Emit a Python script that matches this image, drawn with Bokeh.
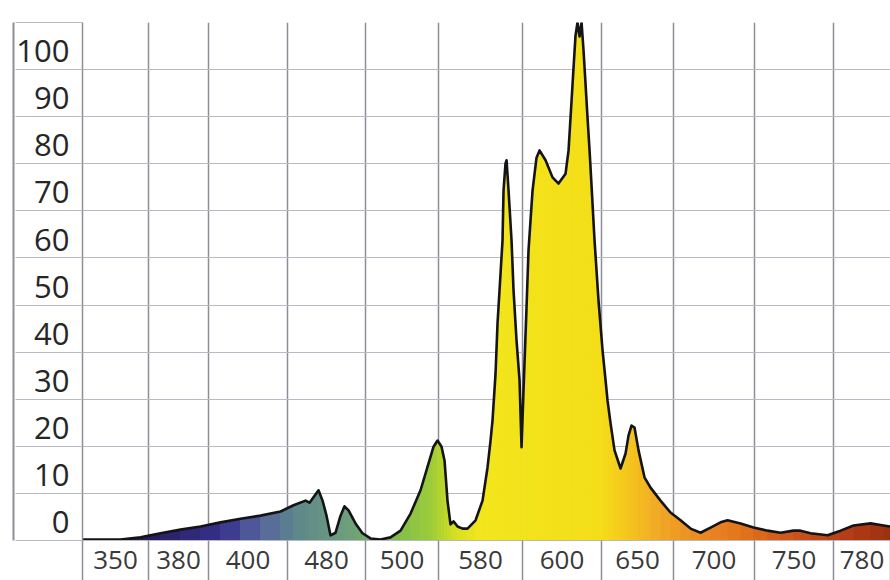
import numpy as np
from bokeh.plotting import figure
from bokeh.models import FixedTicker, LinearAxis, Range1d, Grid
from bokeh.embed import file_html
from bokeh.resources import INLINE

# ---- data -------------------------------------------------------------
# wavelength labels, one per column of the chart (nm)
x_labels = ["350", "380", "400", "480", "500", "580", "600", "650", "700", "750", "780"]
# column boundaries of the hand-drawn grid, in column units
x_bounds = [0, 0.899, 1.715, 2.791, 3.853, 4.847, 5.990, 7.066, 8.046, 9.149, 10.225, 11]
# y labels (relative intensity, %)
y_labels = ["0", "10", "20", "30", "40", "50", "60", "70", "80", "90", "100"]

# spectrum trace: position along the wavelength columns, relative intensity (%)
pos = [0.000, 0.245, 0.517, 0.790, 1.062, 1.334, 1.607, 1.879, 2.151, 2.423,
       2.696, 2.873, 3.036, 3.091, 3.213, 3.268, 3.322, 3.376, 3.445, 3.513,
       3.567, 3.622, 3.717, 3.812, 3.921, 4.057, 4.193, 4.330, 4.466, 4.602,
       4.711, 4.779, 4.833, 4.888, 4.929, 4.969, 5.010, 5.051, 5.106, 5.174,
       5.242, 5.351, 5.446, 5.514, 5.555, 5.582, 5.623, 5.650, 5.691, 5.718,
       5.732, 5.759, 5.773, 5.800, 5.841, 5.868, 5.909, 5.950, 5.977, 6.004,
       6.045, 6.072, 6.127, 6.181, 6.222, 6.304, 6.399, 6.481, 6.576, 6.617,
       6.658, 6.685, 6.712, 6.739, 6.767, 6.794, 6.821, 6.848, 6.875, 6.903,
       6.930, 6.971, 7.025, 7.080, 7.121, 7.148, 7.189, 7.243, 7.325, 7.393,
       7.434, 7.474, 7.515, 7.570, 7.651, 7.733, 7.869, 8.005, 8.142, 8.278,
       8.414, 8.550, 8.686, 8.782, 8.959, 9.135, 9.326, 9.503, 9.680, 9.775,
       9.912, 10.143, 10.320, 10.497, 10.728, 10.905, 11.000]
rel = [0.2, 0.2, 0.2, 0.6, 1.4, 2.1, 2.7, 3.5, 4.2, 4.8,
       5.6, 6.8, 7.7, 7.3, 9.7, 7.7, 4.8, 1.0, 1.5, 4.8,
       6.6, 5.8, 3.3, 1.4, 0.4, 0.2, 0.6, 1.9, 5.2, 9.7,
       14.9, 18.1, 19.3, 18.1, 15.4, 7.7, 3.1, 3.7, 2.7, 2.3,
       2.3, 3.9, 7.7, 14.1, 19.3, 23.2, 32.2, 41.9, 51.5, 57.9,
       67.6, 72.8, 73.4, 67.6, 57.9, 48.3, 38.6, 30.9, 18.0, 29.0,
       45.0, 56.0, 67.6, 73.9, 75.3, 73.4, 70.1, 68.9, 70.8, 75.3,
       84.9, 91.3, 97.5, 100.0, 97.3, 100.0, 94.6, 88.2, 81.7, 75.3,
       68.5, 57.9, 46.3, 36.7, 30.9, 27.0, 22.6, 17.4, 13.9, 16.8,
       20.3, 22.2, 21.8, 17.4, 12.2, 10.2, 7.7, 5.4, 3.9, 2.3,
       1.5, 2.5, 3.5, 3.9, 3.3, 2.5, 1.9, 1.5, 1.9, 1.9,
       1.4, 1.0, 1.9, 2.9, 3.3, 2.9, 2.7]

# ---- style: spectral colour ramp for the fill --------------------------
ramp_at = [0.0, 0.93, 1.88, 2.42, 2.97, 3.65, 4.33, 4.74, 5.08, 5.42,
           7.05, 7.46, 7.87, 8.41, 9.09, 9.78, 10.46, 11.0]
ramp_col = ["#1c1a3a", "#28205e", "#35308a", "#56649e", "#5f8a8a", "#6ea07c",
            "#84bf4a", "#9ccc3a", "#d6e020", "#f3e61c", "#f5de18", "#f5c41e",
            "#f1a828", "#ec8a22", "#e0701a", "#c9501a", "#b23c14", "#9a3010"]

def hex2rgb(h):
    return [int(h[i:i + 2], 16) for i in (1, 3, 5)]

ramp_rgb = np.array([hex2rgb(c) for c in ramp_col], dtype=float)

def ramp(x):
    r, g, b = (np.interp(x, ramp_at, ramp_rgb[:, k]) for k in range(3))
    return "#%02x%02x%02x" % (int(r), int(g), int(b))

GRID_V = "#8e8e98"
GRID_H = "#b9b9c6"
FONT = "Open Sans"
FRAME_LEFT = 82   # left edge of the plotting area (px)
COL_W = 67        # width of the y label column (px)
ROW_H = 40        # height of the x label row (px)
Y_LABEL_W = 54    # approx. width of "100" at the y label size

y_grid = [k * 100 / 11 for k in range(12)]
y_mid = [(k + 0.5) * 100 / 11 - 1.0 for k in range(11)]
x_mid = [(x_bounds[i] + x_bounds[i + 1]) / 2 for i in range(len(x_labels))]

p = figure(width=890, height=580, x_range=Range1d(0, 11), y_range=Range1d(0, 100),
           x_axis_type=None, y_axis_type=None, output_backend="svg",
           toolbar_location=None, min_border_left=FRAME_LEFT, min_border_right=0,
           min_border_top=22, min_border_bottom=ROW_H)
p.outline_line_color = None
p.background_fill_color = "white"
p.border_fill_color = "white"

p.add_layout(Grid(dimension=0, ticker=FixedTicker(ticks=x_bounds),
                  grid_line_color=GRID_V, grid_line_width=1.5))
p.add_layout(Grid(dimension=1, ticker=FixedTicker(ticks=y_grid),
                  grid_line_color=GRID_H, grid_line_width=1.2))

yax = LinearAxis(ticker=FixedTicker(ticks=y_mid, minor_ticks=y_grid),
                 major_label_overrides=dict(zip(y_mid, y_labels)),
                 major_tick_line_color=None, major_tick_in=0, major_tick_out=0,
                 minor_tick_in=0, minor_tick_out=COL_W, minor_tick_line_color=GRID_H,
                 minor_tick_line_width=1.2,
                 axis_line_color=GRID_V, axis_line_width=1.5,
                 major_label_standoff=-Y_LABEL_W, major_label_text_font=FONT,
                 major_label_text_font_size="31px", major_label_text_color="#262626")
p.add_layout(yax, "left")

# outer left border of the label column
edge = LinearAxis(ticker=FixedTicker(ticks=[]), axis_line_color=GRID_V,
                  axis_line_width=2, major_tick_out=0, major_tick_in=0,
                  minor_tick_out=0, minor_tick_in=0, major_label_standoff=0)
p.add_layout(edge, "left")

xax = LinearAxis(ticker=FixedTicker(ticks=x_mid, minor_ticks=x_bounds),
                 major_label_overrides=dict(zip(x_mid, x_labels)),
                 major_tick_line_color=None, major_tick_in=0, major_tick_out=0,
                 minor_tick_in=0, minor_tick_out=ROW_H, minor_tick_line_color=GRID_V,
                 minor_tick_line_width=1.5,
                 axis_line_color=GRID_H, axis_line_width=1.2,
                 major_label_standoff=10 - ROW_H, major_label_text_font=FONT,
                 major_label_text_font_size="26px", major_label_text_color="#3a3a3a")
p.add_layout(xax, "below")

xs, ys, cols = [], [], []
for i in range(len(pos) - 1):
    xs.append([pos[i], pos[i], pos[i + 1], pos[i + 1]])
    ys.append([0, rel[i], rel[i + 1], 0])
    cols.append(ramp((pos[i] + pos[i + 1]) / 2))
p.patches(xs, ys, fill_color=cols, line_color=cols, line_width=0.8)
p.line(pos, rel, line_color="#141414", line_width=2.6, line_join="round")

open("out.html", "w").write(file_html(p, INLINE))
